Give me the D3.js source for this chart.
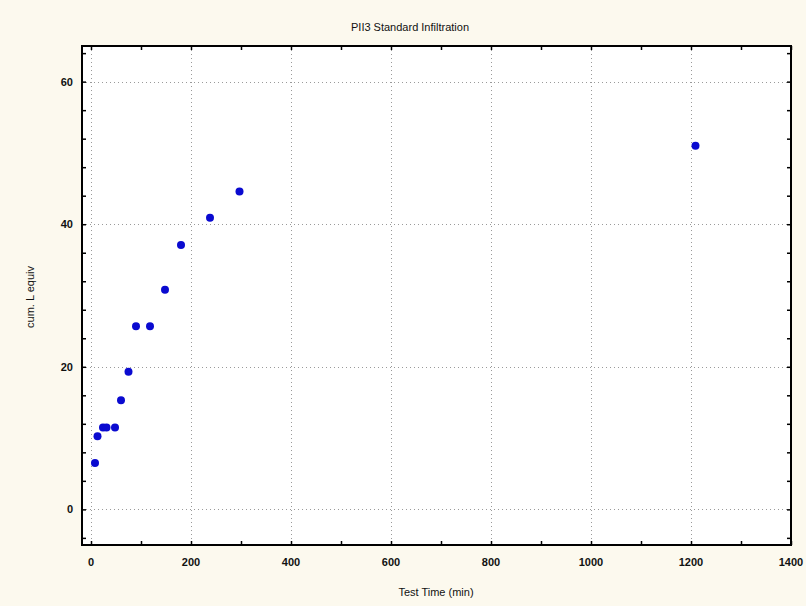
<!DOCTYPE html>
<html>
<head>
<meta charset="utf-8">
<script src="https://cdn.jsdelivr.net/npm/d3@7"></script>
<style>
  body { margin: 0; background: #fcf9ee; }
  svg { display: block; }
  text { font-family: "Liberation Sans", Arial, sans-serif; fill: #111; }
</style>
</head>
<body>
<svg width="806" height="606"></svg>
<script>
// test time (min) and cumulative value
var times = [8, 13, 24, 31, 48, 60, 75, 90, 118, 148, 180, 238, 297, 1209];
var cumVals = [6.5, 10.25, 11.5, 11.5, 11.5, 15.3, 19.3, 25.7, 25.7, 30.8, 37.1, 40.9, 44.6, 51.0];
var xTicks = [0, 200, 400, 600, 800, 1000, 1200, 1400];
var yTicks = [0, 20, 40, 60];

function drawChart() {
    var svg = d3.select("svg"),
        pLeft = 82, pRight = 791, pTop = 46, pBottom = 545;

    var x = d3.scaleLinear().domain([-18, 1400]).range([pLeft, pRight]);
    var y = d3.scaleLinear().domain([-5, 65]).range([pBottom, pTop]);

    // plot area
    svg.append("rect")
        .attr("x", pLeft).attr("y", pTop)
        .attr("width", pRight - pLeft).attr("height", pBottom - pTop)
        .attr("fill", "#fff");

    // dotted grid
    var grid = svg.append("g").attr("stroke", "#9a9a9a").attr("stroke-dasharray", "1,3");
    grid.selectAll(".gx").data(xTicks.filter(function(d) { return d < 1400; }))
        .enter().append("line")
        .attr("x1", function(d) { return Math.round(x(d)) + 0.5; })
        .attr("x2", function(d) { return Math.round(x(d)) + 0.5; })
        .attr("y1", pTop).attr("y2", pBottom);
    grid.selectAll(".gy").data(yTicks)
        .enter().append("line")
        .attr("y1", function(d) { return Math.round(y(d)) + 0.5; })
        .attr("y2", function(d) { return Math.round(y(d)) + 0.5; })
        .attr("x1", pLeft).attr("x2", pRight);

    // axes with inward ticks on all four sides
    var xMinor = d3.range(0, 1401, 100);
    var yMinor = d3.range(-4, 65, 4);

    svg.append("g").attr("transform", "translate(0," + pBottom + ")")
        .call(d3.axisTop(x).tickValues(xMinor).tickSize(4).tickFormat(""));
    svg.append("g").attr("transform", "translate(0," + pTop + ")")
        .call(d3.axisBottom(x).tickValues(xMinor).tickSize(4).tickFormat(""));
    svg.append("g").attr("transform", "translate(" + pLeft + ",0)")
        .call(d3.axisRight(y).tickValues(yMinor).tickSize(4).tickFormat(""));
    svg.append("g").attr("transform", "translate(" + pRight + ",0)")
        .call(d3.axisLeft(y).tickValues(yMinor).tickSize(4).tickFormat(""));
    svg.selectAll(".domain").remove();
    svg.selectAll(".tick line").attr("stroke", "#000").attr("stroke-width", 1.5);

    // frame
    svg.append("rect")
        .attr("x", pLeft).attr("y", pTop)
        .attr("width", pRight - pLeft).attr("height", pBottom - pTop)
        .attr("fill", "none").attr("stroke", "#000").attr("stroke-width", 2);

    // tick labels
    svg.selectAll(".xl").data(xTicks).enter().append("text")
        .attr("x", function(d) { return x(d); })
        .attr("y", 566)
        .attr("text-anchor", "middle")
        .attr("font-size", 11).attr("font-weight", "bold")
        .text(function(d) { return d; });
    svg.selectAll(".yl").data(yTicks).enter().append("text")
        .attr("x", 73)
        .attr("y", function(d) { return y(d) + 4; })
        .attr("text-anchor", "end")
        .attr("font-size", 11).attr("font-weight", "bold")
        .text(function(d) { return d; });

    // points
    svg.selectAll(".pt").data(times).enter().append("circle")
        .attr("cx", function(d) { return x(d); })
        .attr("cy", function(d, i) { return y(cumVals[i]); })
        .attr("r", 4)
        .attr("fill", "#0a0ad0");

    // titles
    svg.append("text")
        .attr("x", 410).attr("y", 31)
        .attr("text-anchor", "middle").attr("font-size", 11)
        .text("PII3 Standard Infiltration");
    svg.append("text")
        .attr("x", 436).attr("y", 596)
        .attr("text-anchor", "middle").attr("font-size", 11)
        .text("Test Time (min)");
    svg.append("text")
        .attr("transform", "translate(34,297) rotate(-90)")
        .attr("text-anchor", "middle").attr("font-size", 11)
        .text("cum. L equiv");
}

drawChart();
</script>
</body>
</html>
